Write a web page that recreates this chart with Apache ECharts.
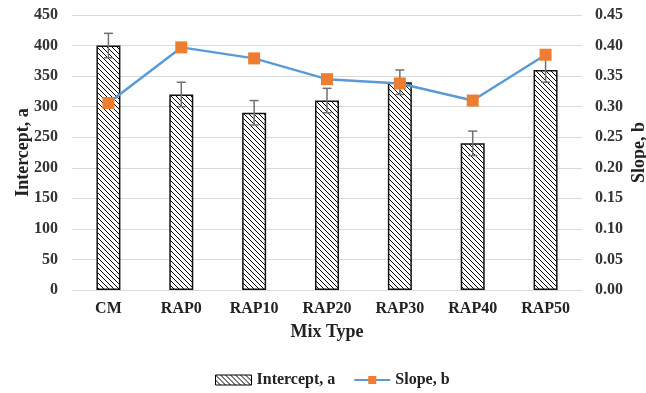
<!DOCTYPE html>
<html>
<head>
<meta charset="utf-8">
<script src="https://cdn.jsdelivr.net/npm/echarts@6/dist/echarts.min.js"></script>
<style>html,body{margin:0;padding:0;background:#fff}#chart{width:646px;height:393px}</style>
</head>
<body>
<div id="chart"></div>
<script>
const categories = ['CM', 'RAP0', 'RAP10', 'RAP20', 'RAP30', 'RAP40', 'RAP50'];
const interceptA = [400, 320, 290, 310, 340, 240, 360];
const interceptErr = [20, 20, 20, 20, 20, 20, 20];
const slopeB = [0.306, 0.397, 0.379, 0.345, 0.338, 0.310, 0.385];
const leftTicks = { min: 0, max: 450, interval: 50 };
const rightTicks = { min: 0, max: 0.45, interval: 0.05 };

// diagonal hatch fill for the bars
function hatch() {
  const c = document.createElement('canvas');
  c.width = 5; c.height = 5;
  const g = c.getContext('2d');
  g.fillStyle = '#fff';
  g.fillRect(0, 0, 5, 5);
  g.strokeStyle = '#000';
  g.lineWidth = 1;
  g.beginPath();
  g.moveTo(-1, -1); g.lineTo(6, 6);
  g.moveTo(-1, 4); g.lineTo(1, 6);
  g.moveTo(4, -1); g.lineTo(6, 1);
  g.stroke();
  return c;
}
const hatchFill = { image: hatch(), repeat: 'repeat' };

const font = 'Liberation Serif';
const nameStyle = { fontFamily: font, fontWeight: 'bold', fontSize: 18, color: '#222' };
const tickStyle = { fontFamily: font, fontWeight: 'bold', fontSize: 16, color: '#333' };
const chart = echarts.init(document.getElementById('chart'));
chart.setOption({
  animation: false,
  textStyle: { fontFamily: font },
  grid: { left: 72, right: 64, top: 15, bottom: 103, outerBoundsMode: 'none', containLabel: false },
  legend: {
    top: 367, left: 210, itemGap: 18, itemWidth: 36, itemHeight: 10,
    textStyle: { fontFamily: font, fontWeight: 'bold', fontSize: 16, color: '#222' },
    data: [
      { name: 'Intercept, a', icon: 'rect', itemStyle: { color: hatchFill, borderColor: '#000', borderWidth: 1 } },
      { name: 'Slope, b' }
    ]
  },
  xAxis: {
    type: 'category', data: categories,
    name: 'Mix Type', nameLocation: 'middle', nameGap: 33, nameMoveOverlap: false,
    nameTextStyle: nameStyle,
    axisLine: { show: false }, axisTick: { show: false },
    axisLabel: Object.assign({ margin: 11 }, tickStyle, { color: '#222' })
  },
  yAxis: [
    {
      type: 'value', min: leftTicks.min, max: leftTicks.max, interval: leftTicks.interval,
      name: 'Intercept, a', nameLocation: 'middle', nameGap: 40, nameRotate: 90, nameMoveOverlap: false,
      nameTextStyle: nameStyle,
      axisLabel: Object.assign({ margin: 14 }, tickStyle),
      splitLine: { lineStyle: { color: '#d9d9d9', width: 1 } },
      axisLine: { show: false }, axisTick: { show: false }
    },
    {
      type: 'value', min: rightTicks.min, max: rightTicks.max, interval: rightTicks.interval,
      name: 'Slope, b', nameLocation: 'middle', nameGap: 48, nameRotate: 90, nameMoveOverlap: false,
      nameTextStyle: nameStyle,
      axisLabel: Object.assign({ margin: 13, formatter: v => v.toFixed(2) }, tickStyle),
      splitLine: { show: false },
      axisLine: { show: false }, axisTick: { show: false }
    }
  ],
  series: [
    {
      name: 'Intercept, a', type: 'bar', data: interceptA, barWidth: 24,
      itemStyle: { color: hatchFill, borderColor: '#111', borderWidth: 1.5 },
      z: 2
    },
    {
      name: 'err', type: 'custom', yAxisIndex: 0, z: 3,
      data: interceptA.map((v, i) => [i, v - interceptErr[i], v + interceptErr[i]]),
      renderItem: (params, api) => {
        const lo = api.coord([api.value(0), api.value(1)]);
        const hi = api.coord([api.value(0), api.value(2)]);
        const x = lo[0], w = 4.5;
        const st = { stroke: '#707070', lineWidth: 1.5 };
        return { type: 'group', children: [
          { type: 'line', shape: { x1: x, y1: lo[1], x2: x, y2: hi[1] }, style: st },
          { type: 'line', shape: { x1: x - w, y1: hi[1], x2: x + w, y2: hi[1] }, style: st },
          { type: 'line', shape: { x1: x - w, y1: lo[1], x2: x + w, y2: lo[1] }, style: st }
        ] };
      }
    },
    {
      name: 'Slope, b', type: 'line', yAxisIndex: 1, data: slopeB, z: 5,
      symbol: 'rect', symbolSize: 12,
      lineStyle: { color: '#5b9bd5', width: 2.5 },
      itemStyle: { color: '#ed7d31' }
    }
  ]
});
</script>
</body>
</html>
